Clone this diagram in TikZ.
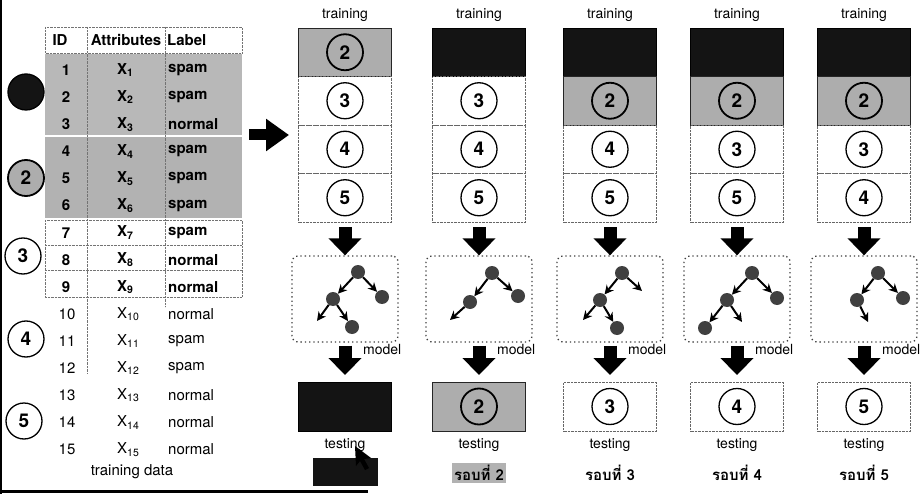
\documentclass[tikz,border=0pt]{standalone}
\usepackage{fontspec}
\setmainfont{TeX Gyre Heros}
\newfontfamily\thaifont[Script=Thai]{Loma}
\usepackage{tikz}
\usetikzlibrary{arrows.meta,positioning}

\tikzset{
  lbl/.style={font=\fontsize{14}{14}\selectfont, inner sep=0pt},
  cell/.style={font=\fontsize{15}{15}\selectfont, inner sep=0pt},
  cellb/.style={font=\fontsize{15}{15}\selectfont\bfseries, inner sep=0pt},
  roundlbl/.style={font=\fontsize{15}{15}\selectfont\thaifont\bfseries, inner sep=2pt},
  fold/.style={circle, draw, line width=1.3pt, minimum size=36pt, inner sep=0pt,
    font=\fontsize{19}{19}\selectfont\bfseries},
  grayfold/.style={fold, fill=black!32, line width=1.8pt},
  rowbox/.style={draw=black!60, densely dotted, minimum width=93pt, minimum height=48.5pt, inner sep=0pt},
  grayrow/.style={rowbox, solid, draw=black!85, fill=black!32},
  blackrow/.style={rowbox, solid, draw=black, fill=black!92},
  modelbox/.style={draw=black!75, line width=1.3pt, dash pattern=on 1.3pt off 3pt,
    rounded corners=6pt, minimum width=106pt, minimum height=86pt},
  leaf/.style={circle, fill=black!75, minimum size=14pt, inner sep=0pt},
  branch/.style={line width=2pt, -{Stealth[length=9pt,width=9pt]}},
  fatarrow/.style={line width=13pt, -{Triangle[width=32pt,length=17pt]}},
  tabline/.style={draw=black!55, densely dotted},
}

\begin{document}
\begin{tikzpicture}[x=1pt,y=-1pt]
\useasboundingbox (0,0) rectangle (920,494);
\fill[white] (0,0) rectangle (920,494);
% page edge of the scan
\draw[line width=2pt] (1,0) -- (1,494);
\draw[line width=3pt] (0,491) -- (368,491);

% training data table
\fill[black!28] (45,54) rectangle (242,135);
\fill[black!30] (45,137) rectangle (242,218);
\draw[tabline] (45,27) rectangle (242,53);
\draw[tabline] (45,220) rectangle (242,297);
\draw[tabline] (45,245) -- (242,245);
\draw[tabline] (45,270) -- (242,270);
\draw[tabline] (87,27) -- (87,373);
\draw[tabline] (165,27) -- (165,307);
\node[cellb] (hid) at (60,40) {ID};
\node[cellb] (hattr) at (126,40) {Attributes};
\node[cellb, anchor=west] (hlab) at (167,40) {Label};
\foreach \i/\lab in {1/spam,2/spam,3/normal,4/spam,5/spam,6/spam,7/spam,8/normal,9/normal} {
    \pgfmathsetmacro\yy{43+27.1*\i}
    \node[cellb] (id\i) at (66,\yy) {\i};
    \node[cellb, anchor=west] (x\i) at (117,\yy) {X\textsubscript{\i}};
    \node[cellb, anchor=west] (lab\i) at (168,\yy) {\lab};
}
\foreach \i/\lab in {10/normal,11/spam,12/spam,13/normal,14/normal,15/normal} {
    \pgfmathsetmacro\yy{43+27.1*\i}
    \node[cell] (id\i) at (67,\yy) {\i};
    \node[cell, anchor=west] (x\i) at (117,\yy) {X\textsubscript{\i}};
    \node[cell, anchor=west] (lab\i) at (168,\yy) {\lab};
}
\node[cell] (tdata) at (132,472) {training data};

% folds beside the table
\node[fold, fill=black!92] (g1) at (26,92) {};
\node[grayfold] (g2) at (26,178) {2};
\node[fold] (g3) at (23,256) {3};
\node[fold] (g4) at (26,339) {4};
\node[fold] (g5) at (24,421) {5};

% split arrow
\coordinate (split-from) at (249,135);
\coordinate (split-to) at (289,135);
\draw[line width=11pt, -{Triangle[width=31pt,length=23pt]}] (split-from) -- (split-to);

% first two training rows
\node[grayrow] (r1-1) at (345,52.25) {};
\node[grayfold] (c1-1) at (r1-1) {2};
\node[rowbox] (r2-1) at (345,100.75) {};
\node[fold] (c2-1) at (r2-1) {3};
\node[blackrow] (r1-2) at (479,52.25) {};
\node[rowbox] (r2-2) at (479,100.75) {};
\node[fold] (c2-2) at (r2-2) {3};
\foreach \cx/\k in {610/3,737/4,864/5} {
    \node[blackrow] (r1-\k) at (\cx,52.25) {};
    \node[grayrow] (r2-\k) at (\cx,100.75) {};
    \node[grayfold] (c2-\k) at (r2-\k) {2};
}

% testing folds
\node[blackrow] (test-1) at (345,406.5) {};
\node[grayrow] (test-2) at (479,406.5) {};
\node[grayfold] (tc-2) at (test-2) {2};
\foreach \cx/\n in {610/3,737/4,864/5} {
    \node[rowbox] (test-\n) at (\cx,406.5) {};
    \node[fold] (tc-\n) at (test-\n) {\n};
}

% rounds
\foreach \cx/\rc/\rd/\k in {345/4/5/1,479/4/5/2,610/4/5/3,737/3/5/4,864/3/4/5} {
    \node[lbl] (train-\k) at (\cx,15) {training};
    \node[rowbox] (r3-\k) at (\cx,149.25) {};
    \node[fold] (c3-\k) at (r3-\k) {\rc};
    \node[rowbox] (r4-\k) at (\cx,197.75) {};
    \node[fold] (c4-\k) at (r4-\k) {\rd};
    \node[modelbox] (model-\k) at (\cx,299) {};
    \draw[fatarrow, shorten <=5pt] (r4-\k.south) -- (model-\k.north);
    \draw[fatarrow, shorten <=3pt, shorten >=7pt] (model-\k.south) -- (test-\k.north);
    \node[lbl, anchor=west] (mlbl-\k) at ({\cx+18},350) {model};
    \node[lbl] (testlbl-\k) at (\cx,445) {testing};
}

% trees
\node[leaf] (t1-root) at (358,272) {};
\node[leaf] (t1-l) at (333,299) {};
\node[leaf] (t1-r) at (382,297) {};
\node[leaf] (t1-lr) at (352,327) {};
\coordinate (t1-ll) at (317,321);
\draw[branch] (t1-root) -- (t1-l);
\draw[branch] (t1-root) -- (t1-r);
\draw[branch] (t1-l) -- (t1-ll);
\draw[branch] (t1-l) -- (t1-lr);

\node[leaf] (t2-root) at (492,273) {};
\node[leaf] (t2-l) at (470,302) {};
\node[leaf] (t2-r) at (518,296) {};
\coordinate (t2-ll) at (450,320);
\draw[branch] (t2-root) -- (t2-l);
\draw[branch] (t2-root) -- (t2-r);
\draw[branch] (t2-l) -- (t2-ll);

\node[leaf] (t3-root) at (622,273) {};
\node[leaf] (t3-l) at (600,300) {};
\node[leaf] (t3-lr) at (617,328) {};
\coordinate (t3-r) at (642,291);
\coordinate (t3-ll) at (583,320);
\draw[branch] (t3-root) -- (t3-l);
\draw[branch] (t3-root) -- (t3-r);
\draw[branch] (t3-l) -- (t3-ll);
\draw[branch] (t3-l) -- (t3-lr);

\node[leaf] (t4-root) at (752,273) {};
\node[leaf] (t4-l) at (727,300) {};
\node[leaf] (t4-r) at (777,298) {};
\node[leaf] (t4-ll) at (705,328) {};
\coordinate (t4-lr) at (742,322);
\draw[branch] (t4-root) -- (t4-l);
\draw[branch] (t4-root) -- (t4-r);
\draw[branch] (t4-l) -- (t4-ll);
\draw[branch] (t4-l) -- (t4-lr);

\node[leaf] (t5-root) at (878,273) {};
\node[leaf] (t5-l) at (857,300) {};
\node[leaf] (t5-r) at (903,298) {};
\coordinate (t5-lr) at (868,322);
\draw[branch] (t5-root) -- (t5-l);
\draw[branch] (t5-root) -- (t5-r);
\draw[branch] (t5-l) -- (t5-lr);

% round labels
\node[fill=black!92, minimum width=65pt, minimum height=28pt, inner sep=0pt] (round-1) at (345,472) {};
\node[roundlbl, fill=black!30] (round-2) at (479,473) {รอบที่ 2};
\node[roundlbl] (round-3) at (610,473) {รอบที่ 3};
\node[roundlbl] (round-4) at (737,473) {รอบที่ 4};
\node[roundlbl] (round-5) at (864,473) {รอบที่ 5};
% pointer
\fill (355,446) -- (356,466) -- (360,461) -- (365,470) -- (369,468) -- (364,459) -- (371,458) -- cycle;
\end{tikzpicture}
\end{document}
